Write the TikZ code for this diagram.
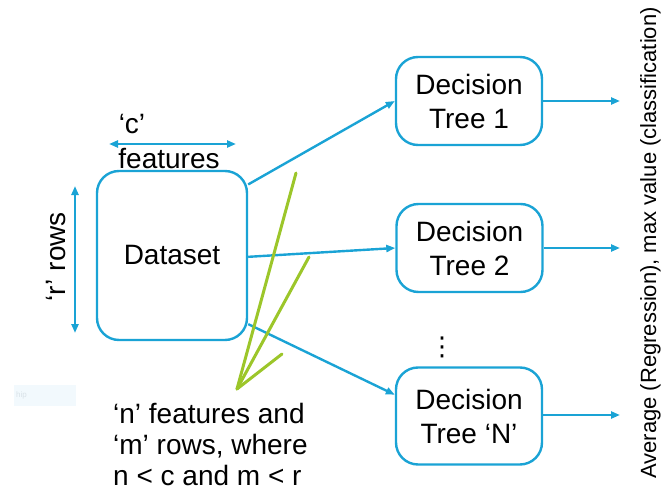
\documentclass[tikz,border=0pt]{standalone}
\usepackage{fontspec}
\setmainfont{Liberation Sans}
\newfontfamily\dejavu{DejaVu Sans}
\usetikzlibrary{arrows.meta,calc}
\definecolor{rfblue}{HTML}{1AA3D5}
\definecolor{rfgreen}{HTML}{9CC62A}
\definecolor{faintbg}{HTML}{F2F9FD}
\definecolor{fainttx}{HTML}{D9E2E8}
\tikzset{
  box/.style={draw=rfblue, line width=2.4pt, rounded corners=22pt, fill=white, align=center,
    font=\fontsize{28}{34}\selectfont, inner sep=0pt},
  flow/.style={draw=rfblue, line width=2.4pt, -{Triangle[length=9pt,width=7pt]}},
  dflow/.style={draw=rfblue, line width=2.4pt, {Triangle[length=9pt,width=7pt]}-{Triangle[length=9pt,width=7pt]}},
  pick/.style={draw=rfgreen, line width=3pt, line cap=round},
  lbl/.style={font=\fontsize{28}{31}\selectfont, inner sep=0pt},
}
\begin{document}
\begin{tikzpicture}[x=1pt,y=-1pt]
\useasboundingbox (0,0) rectangle (665,495);
% faint leftover box
\node[fill=faintbg, minimum width=62pt, minimum height=21pt, inner sep=0pt, anchor=north west] (hint) at (14,385) {};
\node[font=\fontsize{8}{8}\selectfont, text=fainttx, anchor=west, inner sep=0pt] (hinttxt) at (16,395.5) {hip};
% green lines
\coordinate (gtip) at (237,389);
\coordinate (g1) at (296,173);
\coordinate (g2) at (309,257);
\coordinate (g3) at (282,354);
% boxes
\node[box, minimum width=150pt, minimum height=169pt] (ds) at (172,255.5) {Dataset};
\node[box, minimum width=146pt, minimum height=88pt] (t1) at (469,101) {Decision\\Tree 1};
\node[box, minimum width=146pt, minimum height=88pt] (t2) at (469.5,248) {Decision\\Tree 2};
\node[box, minimum width=146pt, minimum height=97pt] (tN) at (469,416) {Decision\\Tree ‘N’};
\node[font=\dejavu\fontsize{26}{26}\selectfont, inner sep=0pt] (dots) at (442,347) {⋮};
% arrows dataset -> trees
\draw[flow] (ds.43) -- (t1.west);
\draw[flow] (ds.-1) -- (t2.west);
\draw[flow] (ds.-42) -- (tN.164);
% green lines drawn over
\draw[pick] (g1) -- (gtip);
\draw[pick] (g2) -- (gtip);
\draw[pick] (g3) -- (gtip);
% outputs
\coordinate (o1) at (620,101);
\coordinate (o2) at (620,248);
\coordinate (oN) at (620,415);
\draw[flow] (t1.east) -- (o1);
\draw[flow] (t2.east) -- (o2);
\draw[flow] (tN.east |- oN) -- (oN);
% c features
\coordinate (c1) at (109,144);
\coordinate (c2) at (236,144);
\draw[dflow] (c1) -- (c2);
\node[lbl, anchor=base] (ctxt) at (132,133) {‘c’};
\node[lbl, anchor=base] (ftxt) at (169,168) {features};
% r rows
\coordinate (r1) at (75,186);
\coordinate (r2) at (75,333);
\draw[dflow] (r1) -- (r2);
\node[lbl, anchor=base, rotate=90] (rtxt) at (65,257) {‘r’ rows};
% bottom text
\node[lbl, anchor=base west, align=left] (ntxt) at (113,485) {‘n’ features and\\‘m’ rows, where\\n < c and m < r};
% right text
\node[font=\fontsize{22}{22}\selectfont, inner sep=0pt, anchor=base, rotate=90] (avg) at (656,243) {Average (Regression), max value (classification)};
\end{tikzpicture}
\end{document}
